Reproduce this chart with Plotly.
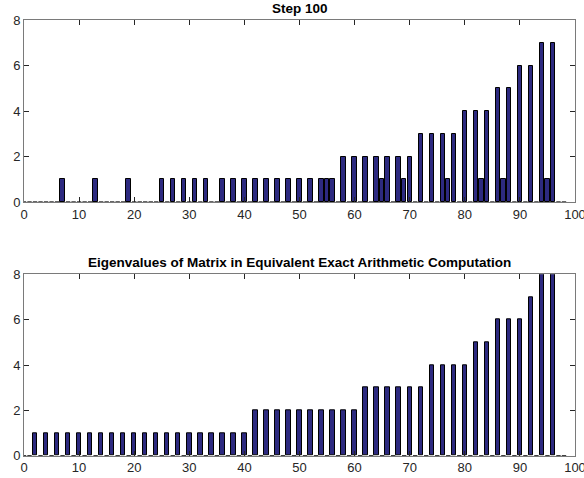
import plotly.graph_objects as go
from plotly.subplots import make_subplots

# ---- data ----
bin_centers = list(range(0, 99))

step100_x = [7, 13, 19, 25, 27, 29, 31, 33, 36, 38, 40, 42, 44, 46, 48, 50, 52, 54, 55, 56,
             58, 60, 62, 64, 65, 66, 68, 69, 70, 72, 74, 76, 77, 78, 80, 82, 83, 84,
             86, 87, 88, 90, 92, 94, 95, 96]
step100_y = [1, 1, 1, 1, 1, 1, 1, 1, 1, 1, 1, 1, 1, 1, 1, 1, 1, 1, 1, 1,
             2, 2, 2, 2, 1, 2, 2, 1, 2, 3, 3, 3, 1, 3, 4, 4, 1, 4,
             5, 1, 5, 6, 6, 7, 1, 7]

exact_x = [2, 4, 6, 8, 10, 12, 14, 16, 18, 20, 22, 24, 26, 28, 30, 32, 34, 36, 38, 40,
           42, 44, 46, 48, 50, 52, 54, 56, 58, 60, 62, 64, 66, 68, 70, 72, 74, 76, 78, 80,
           82, 84, 86, 88, 90, 92, 94, 96]
exact_y = [1, 1, 1, 1, 1, 1, 1, 1, 1, 1, 1, 1, 1, 1, 1, 1, 1, 1, 1, 1,
           2, 2, 2, 2, 2, 2, 2, 2, 2, 2, 3, 3, 3, 3, 3, 3, 4, 4, 4, 4,
           5, 5, 6, 6, 6, 7, 8, 8]

titles = ["Step 100", "Eigenvalues of Matrix in Equivalent Exact Arithmetic Computation"]
x_ticks = [0, 10, 20, 30, 40, 50, 60, 70, 80, 90, 100]
y_ticks = [0, 2, 4, 6, 8]

BAR_W = 0.8
BAR_FILL = "#2d2a80"
FONT = "Liberation Sans, Arial, sans-serif"
AX = "#262626"

fig = make_subplots(rows=2, cols=1, vertical_spacing=0.0)

def add_panel(row, xs, ys):
    fig.add_trace(go.Bar(x=xs, y=ys, width=BAR_W,
                         marker=dict(color=BAR_FILL, line=dict(color="black", width=1)),
                         showlegend=False, hoverinfo="x+y"), row=row, col=1)
    # zero-height bins drawn as their (flat) edge outlines
    zx, zy = [], []
    for c in bin_centers:
        if c not in xs:
            zx += [c - BAR_W / 2, c + BAR_W / 2, None]
            zy += [0, 0, None]
    fig.add_trace(go.Scatter(x=zx, y=zy, mode="lines",
                             line=dict(color="black", width=1.2),
                             showlegend=False, hoverinfo="skip", cliponaxis=False),
                  row=row, col=1)

add_panel(1, step100_x, step100_y)
add_panel(2, exact_x, exact_y)

axis_common = dict(showline=True, linecolor="#7a7a7a", linewidth=1, mirror="allticks",
                   ticks="inside", ticklen=5, tickcolor=AX, tickwidth=1,
                   showgrid=False, zeroline=False, ticklabeloverflow="allow",
                   tickfont=dict(family=FONT, size=13, color=AX))

for r in (1, 2):
    fig.update_xaxes(range=[0, 100], tickvals=x_ticks, **axis_common, row=r, col=1)
    fig.update_yaxes(range=[0, 8], tickvals=y_ticks, **axis_common, row=r, col=1)

H = 478.0
fig.update_layout(
    xaxis=dict(domain=[0, 1]),
    yaxis=dict(domain=[1 - 202 / H, 1 - 20 / H]),
    xaxis2=dict(domain=[0, 1]),
    yaxis2=dict(domain=[1 - 455.7 / H, 1 - 274.3 / H]),
)

fig.add_annotation(text="<b>%s</b>" % titles[0], xref="paper", yref="paper",
                   x=0.5, y=1 - 8.5 / H, showarrow=False,
                   font=dict(family=FONT, size=13.5, color="black"),
                   xanchor="center", yanchor="middle")
fig.add_annotation(text="<b>%s</b>" % titles[1], xref="paper", yref="paper",
                   x=0.5, y=1 - 262.5 / H, showarrow=False,
                   font=dict(family=FONT, size=13.5, color="black"),
                   xanchor="center", yanchor="middle")

fig.update_layout(width=584, height=478,
                  margin=dict(l=23.5, r=8.5, t=0, b=0, autoexpand=False),
                  paper_bgcolor="white", plot_bgcolor="white",
                  bargap=0, barmode="overlay",
                  font=dict(family=FONT))

fig.write_html("out.html")
